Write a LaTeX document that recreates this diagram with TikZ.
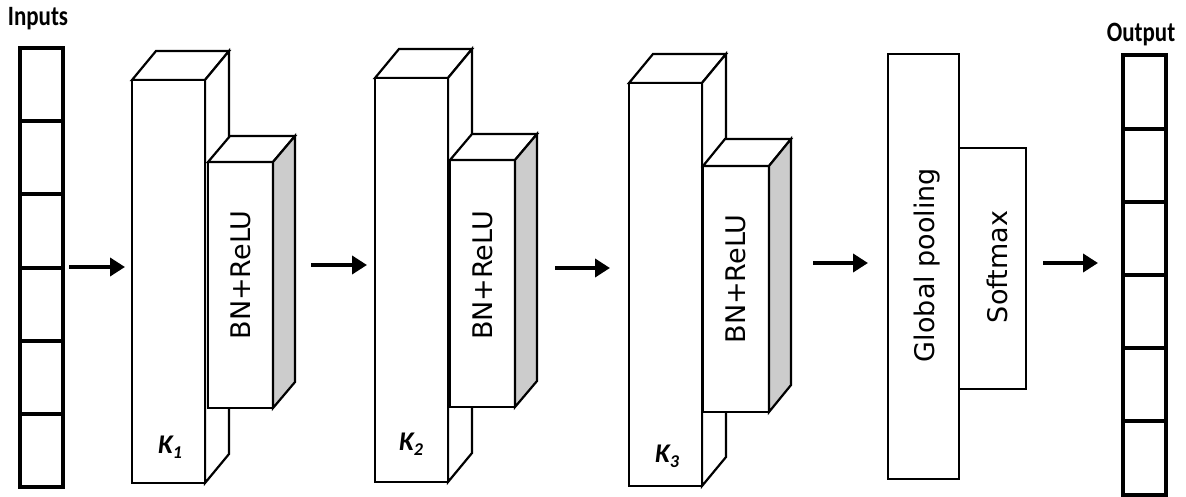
\documentclass[tikz,border=0pt]{standalone}
\usepackage{fontspec}
\setmainfont{DejaVu Sans}
\newfontfamily\lblfont{Carlito}
\usetikzlibrary{arrows.meta,calc}
\begin{document}
\begin{tikzpicture}[x=1pt,y=-1pt,
  face/.style={draw, line width=2.2pt, fill=white, inner sep=0pt, outer sep=0pt, line join=miter},
  shade/.style={draw, line width=2.2pt, fill=black!20, line join=miter},
  plain/.style={draw, line width=2.2pt, fill=white, line join=miter},
  cell/.style={draw, line width=4pt, fill=white, minimum width=43pt, inner sep=0pt, outer sep=0pt},
  flow/.style={line width=4.8pt, -{Triangle[length=15pt,width=18pt]}},
  vtxt/.style={rotate=90, font=\fontsize{27}{32}\selectfont},
  klbl/.style={font=\lblfont\itshape\bfseries\fontsize{27}{32}\selectfont},
  ttl/.style={font=\lblfont\bfseries\fontsize{28}{32}\selectfont}
]
\useasboundingbox (0,0) rectangle (1186,497);

% ---------- Inputs column ----------
\node[ttl] (inlbl) at (38,19) {\scalebox{0.82}[1]{Inputs}};
\foreach \i [evaluate=\i as \yy using 48.5+73*(\i-0.5)] in {1,...,6}
  \node[cell, minimum height=73pt] (in\i) at (41,\yy) {};

% ---------- Block 1 ----------
\node[face, minimum width=73pt, minimum height=403pt] (k1) at (168.5,281.5) {};
\draw[plain] (k1.north west) -- ++(24,-29) -- ++(73,0) -- (k1.north east) -- cycle;
\draw[plain] (k1.north east) -- ++(24,-29) -- ++(0,403) -- (k1.south east) -- cycle;
\node[face, minimum width=73pt, minimum height=403pt] at (k1) {};
\node[klbl] (k1t) at (170,447) {K\raisebox{-5pt}{\fontsize{18}{20}\selectfont 1}};
\node[face, minimum width=65pt, minimum height=246pt] (b1) at (240.5,285) {};
\draw[plain] (b1.north west) -- ++(22,-26) -- ++(65,0) -- (b1.north east) -- cycle;
\draw[shade] (b1.north east) -- ++(22,-26) -- ++(0,246) -- (b1.south east) -- cycle;
\node[vtxt] (b1t) at ($(b1)+(0,-10)$) {BN+ReLU};

% ---------- Block 2 ----------
\node[face, minimum width=73pt, minimum height=404pt] (k2) at (411.5,280) {};
\draw[plain] (k2.north west) -- ++(24,-29) -- ++(73,0) -- (k2.north east) -- cycle;
\draw[plain] (k2.north east) -- ++(24,-29) -- ++(0,404) -- (k2.south east) -- cycle;
\node[face, minimum width=73pt, minimum height=404pt] at (k2) {};
\node[klbl] (k2t) at (411,444) {K\raisebox{-5pt}{\fontsize{18}{20}\selectfont 2}};
\node[face, minimum width=65pt, minimum height=247pt] (b2) at (482.5,283.5) {};
\draw[plain] (b2.north west) -- ++(22,-26) -- ++(65,0) -- (b2.north east) -- cycle;
\draw[shade] (b2.north east) -- ++(22,-26) -- ++(0,247) -- (b2.south east) -- cycle;
\node[vtxt] (b2t) at ($(b2)+(0,-8)$) {BN+ReLU};

% ---------- Block 3 ----------
\node[face, minimum width=73pt, minimum height=403pt] (k3) at (665.5,284.5) {};
\draw[plain] (k3.north west) -- ++(24,-29) -- ++(73,0) -- (k3.north east) -- cycle;
\draw[plain] (k3.north east) -- ++(24,-29) -- ++(0,403) -- (k3.south east) -- cycle;
\node[face, minimum width=73pt, minimum height=403pt] at (k3) {};
\node[klbl] (k3t) at (667,456) {K\raisebox{-5pt}{\fontsize{18}{20}\selectfont 3}};
\node[face, minimum width=66pt, minimum height=246pt] (b3) at (736,289) {};
\draw[plain] (b3.north west) -- ++(22,-27) -- ++(66,0) -- (b3.north east) -- cycle;
\draw[shade] (b3.north east) -- ++(22,-27) -- ++(0,246) -- (b3.south east) -- cycle;
\node[vtxt] (b3t) at ($(b3)+(0,-10)$) {BN+ReLU};

% ---------- Global pooling + Softmax ----------
\node[face, minimum width=67pt, minimum height=241pt] (sm) at (992.5,268.5) {};
\node[vtxt] (smt) at (997,267) {Softmax};
\node[face, minimum width=71pt, minimum height=425pt] (gp) at (923.5,266.5) {};
\node[vtxt] (gpt) at (927,265) {Global pooling};

% ---------- Output column ----------
\node[ttl] (outlbl) at (1141,35) {\scalebox{0.82}[1]{Output}};
\foreach \i [evaluate=\i as \yy using 55.5+73.17*(\i-0.5)] in {1,...,6}
  \node[cell, minimum height=73.17pt] (out\i) at (1144,\yy) {};

% ---------- Arrows ----------
\coordinate (a1s) at (69,267);  \coordinate (a1e) at (125,267);
\coordinate (a2s) at (311,265); \coordinate (a2e) at (367,265);
\coordinate (a3s) at (555,268); \coordinate (a3e) at (610,268);
\coordinate (a4s) at (813,263); \coordinate (a4e) at (868,263);
\coordinate (a5s) at (1043,263);\coordinate (a5e) at (1098,263);
\draw[flow] (a1s) -- (a1e);
\draw[flow] (a2s) -- (a2e);
\draw[flow] (a3s) -- (a3e);
\draw[flow] (a4s) -- (a4e);
\draw[flow] (a5s) -- (a5e);
\end{tikzpicture}
\end{document}
